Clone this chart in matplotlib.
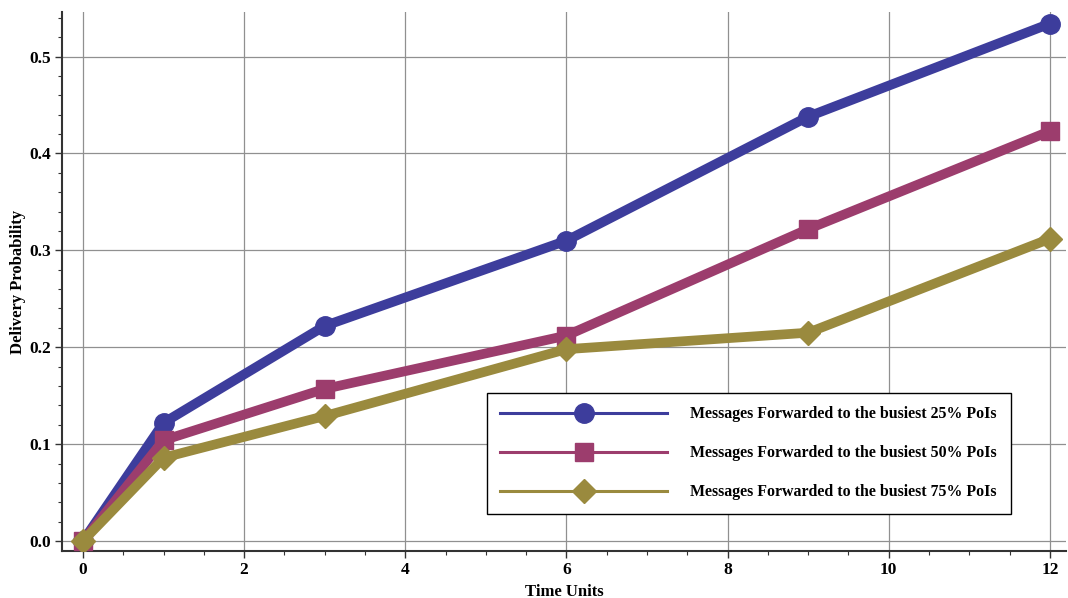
import matplotlib
matplotlib.use("Agg")
import matplotlib.pyplot as plt
from matplotlib.lines import Line2D
from matplotlib.ticker import MultipleLocator

time_units = [0, 1, 3, 6, 9, 12]
p25 = [0.0, 0.122, 0.222, 0.310, 0.438, 0.534]
p50 = [0.0, 0.104, 0.157, 0.212, 0.322, 0.423]
p75 = [0.0, 0.086, 0.129, 0.198, 0.215, 0.312]
labels = ["Messages Forwarded to the busiest 25% PoIs",
          "Messages Forwarded to the busiest 50% PoIs",
          "Messages Forwarded to the busiest 75% PoIs"]
colors = ["#3d3d9c", "#9c3d6d", "#9a8a3e"]
markers = ["o", "s", "D"]
msizes = [14, 12.5, 12]

plt.rcParams['font.family'] = ['Liberation Serif', 'DejaVu Serif']
plt.rcParams['font.weight'] = 'bold'

fig = plt.figure(figsize=(10.68, 5.98), dpi=100)
ax = fig.add_axes([62/1068, 47/598, 1004/1068, 539/598])

for ys, c, m, ms in zip([p25, p50, p75], colors, markers, msizes):
    ax.plot(time_units, ys, color=c, lw=7, marker=m, ms=ms, solid_joinstyle='miter', zorder=3)

ax.set_xlim(-0.26, 12.2)
ax.set_ylim(-0.0103, 0.546)
ax.xaxis.set_major_locator(MultipleLocator(2))
ax.xaxis.set_minor_locator(MultipleLocator(0.5))
ax.yaxis.set_major_locator(MultipleLocator(0.1))
ax.yaxis.set_minor_locator(MultipleLocator(0.02))
ax.set_yticks([0.0, 0.1, 0.2, 0.3, 0.4, 0.5])
ax.set_yticklabels(["0.0", "0.1", "0.2", "0.3", "0.4", "0.5"])
ax.grid(True, which='major', color='#909090', lw=0.9)
for s in ['top', 'right']:
    ax.spines[s].set_visible(False)
for s in ['left', 'bottom']:
    ax.spines[s].set_color('#333333')
    ax.spines[s].set_linewidth(1.5)
ax.tick_params(which='major', length=5, width=1, color='#333333', labelsize=12.5, direction='out', pad=3)
ax.tick_params(which='minor', length=3, width=0.8, color='#333333', direction='out')
for lab in ax.get_xticklabels() + ax.get_yticklabels():
    lab.set_fontweight('bold')

ax.set_xlabel("Time Units", fontsize=12, fontweight='bold', labelpad=4)
ax.set_ylabel("Delivery Probability", fontsize=12, fontweight='bold', labelpad=2)

handles = [Line2D([0], [0], color=c, lw=2.2, marker=m, ms=ms)
           for c, m, ms in zip(colors, markers, msizes)]
leg = fig.legend(handles, labels, loc='upper left',
                 bbox_to_anchor=(487/1068, 1 - 393/598),
                 fancybox=False, framealpha=1, edgecolor='black',
                 fontsize=11.4, handlelength=10.5, handletextpad=1.5,
                 labelspacing=1.45, borderpad=0.85, borderaxespad=0)
leg.get_frame().set_linewidth(1)
for t in leg.get_texts():
    t.set_fontweight('bold')

fig.savefig("out.png", dpi=100)
